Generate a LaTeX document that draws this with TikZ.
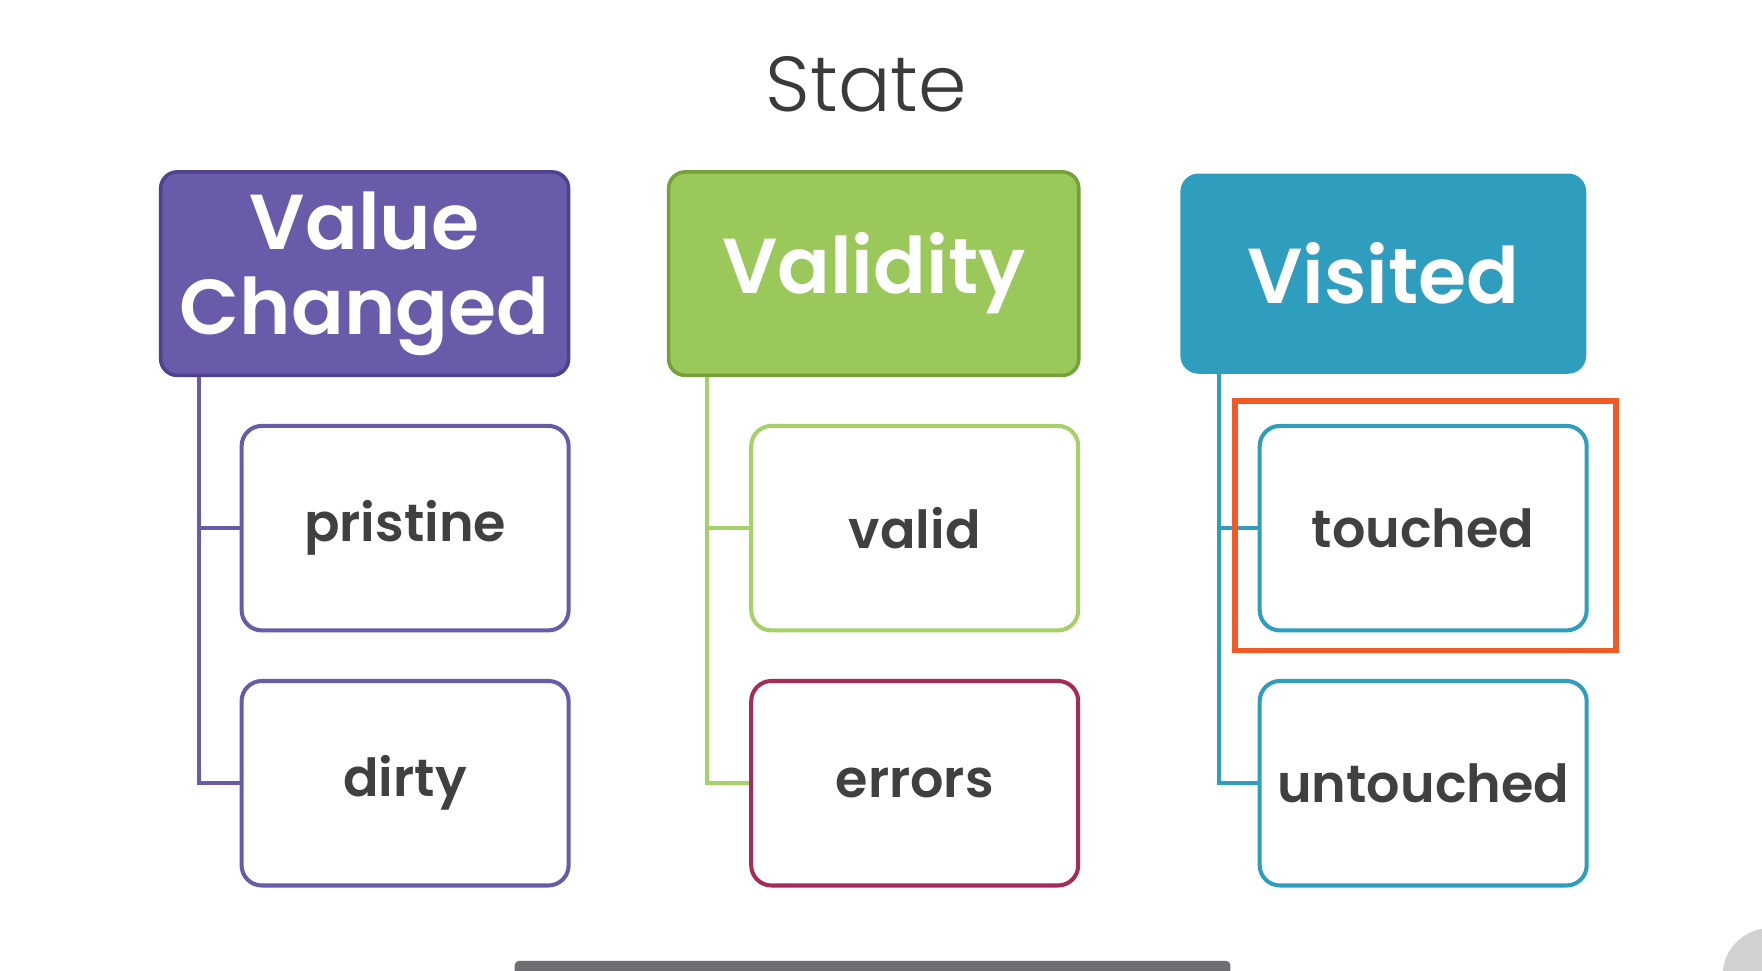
\documentclass[tikz,border=0pt]{standalone}
\usepackage{fontspec}
\setmainfont{Poppins}
\newfontfamily\lightfont{Poppins Light}
\newfontfamily\medfont{Poppins SemiBold}
\newfontfamily\boldfont{Poppins SemiBold}
\definecolor{vpurple}{HTML}{6A5BAA}
\definecolor{vpurpled}{HTML}{4F418F}
\definecolor{vgreen}{HTML}{9BC85A}
\definecolor{vgreend}{HTML}{76A03A}
\definecolor{vgreenl}{HTML}{A6D169}
\definecolor{vteal}{HTML}{2E9DBE}
\definecolor{vcrimson}{HTML}{A62A5A}
\definecolor{vorange}{HTML}{F15A24}
\definecolor{vtext}{HTML}{404040}
\definecolor{vbar}{HTML}{6D6F72}
\tikzset{
  header/.style={rectangle, rounded corners=11pt, line width=2.4pt, text=white,
    align=center, font=\boldfont\fontsize{52}{57}\selectfont, inner sep=0pt},
  child/.style={rectangle, rounded corners=13.5pt, line width=2.7pt, fill=white,
    minimum width=218.25pt, minimum height=136.5pt, inner sep=0pt,
    text=vtext, font=\medfont\fontsize{35}{40}\selectfont},
  conn/.style={line width=2.6pt},
  highlight/.style={draw=vorange, line width=3.75pt, inner sep=0pt}
}
\begin{document}
\begin{tikzpicture}[x=0.75pt,y=-0.75pt]
\useasboundingbox (0,0) rectangle (1568,864);
\fill[white] (0,0) rectangle (1568,864);
\node[text=vtext!90!black, font=\lightfont\fontsize{52}{56}\selectfont, anchor=base] (title) at (771,99) {State};

\node[header, fill=vpurple, draw=vpurpled, minimum width=272.25pt, minimum height=135.75pt] (h1) at (324.5,243.5) {Value\\Changed};
\node[header, fill=vgreen, draw=vgreend, minimum width=273.75pt, minimum height=135.75pt] (h2) at (777.5,243.5) {Validity};
\node[header, fill=vteal, draw=vteal, minimum width=268.5pt, minimum height=131.25pt] (h3) at (1231,243.5) {Visited};

\node[child, draw=vpurple] (c11) at (360.5,470) {pristine};
\node[child, draw=vpurple] (c12) at (360.5,697) {dirty};
\node[child, draw=vgreenl] (c21) at (814,470) {valid};
\node[child, draw=vcrimson] (c22) at (814,697) {errors};
\node[child, draw=vteal] (c31) at (1266.5,470) {touched};
\node[child, draw=vteal] (c32) at (1266.5,697) {untouched};

\coordinate (t1) at ([xshift=27pt]h1.south west);
\coordinate (t2) at ([xshift=27pt]h2.south west);
\coordinate (t3) at ([xshift=25.5pt]h3.south west);
\draw[conn, vpurple] (t1) |- (c12.west);
\draw[conn, vpurple] (t1) |- (c11.west);
\draw[conn, vgreenl] (t2) |- (c22.west);
\draw[conn, vgreenl] (t2) |- (c21.west);
\draw[conn, vteal] (t3) |- (c32.west);
\draw[conn, vteal] (t3) |- (c31.west);

\node[highlight, minimum width=254.25pt, minimum height=166.5pt] (hl) at (1268.5,468) {};

\fill[vbar, rounded corners=3pt] (458,855) rectangle (1095,875);
\begin{scope}
\clip (0,0) rectangle (1568,864);
\fill[black!18] (1575,868) circle (42);
\end{scope}
\end{tikzpicture}
\end{document}
